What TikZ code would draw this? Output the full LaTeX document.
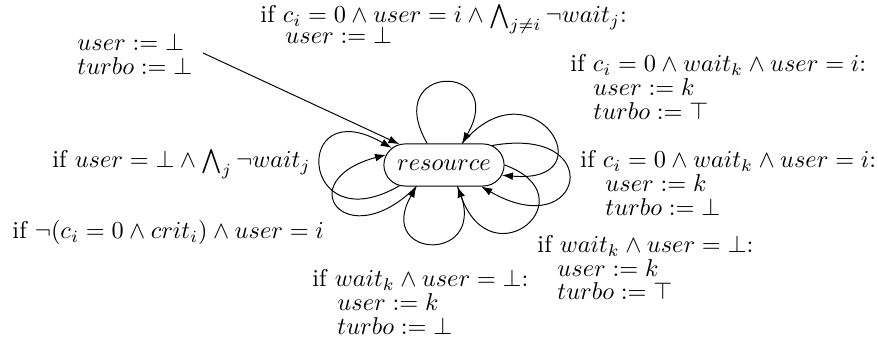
\documentclass[tikz,border=0pt]{standalone}
\usetikzlibrary{arrows.meta,shapes.misc}
\begin{document}
\begin{tikzpicture}[x=0.411pt,y=0.411pt,
  lbl/.style={anchor=base west,inner sep=0pt},
  loopedge/.style={-{Latex[length=4.5pt,width=3.2pt]}},
  statebox/.style={draw,rounded rectangle,minimum width=51.4pt,minimum height=17.3pt,inner sep=1pt}]
\useasboundingbox (0,0) rectangle (878,345);
\node[statebox] (r) at (444,180) {$resource$};
% self loops
\draw[loopedge] (r.128) .. controls +(120:94) and +(60:94) .. (r.50);
\draw[loopedge] (r.50) .. controls +(50:110) and +(-5:108) .. (r.-10);
\draw[loopedge] (r.22) .. controls +(10:118) and +(-30:118) .. (r.-30);
\draw[loopedge] (r.0) .. controls +(-20:92) and +(-70:102) .. (r.-58);
\draw[loopedge] (r.-58) .. controls +(-65:86) and +(-120:86) .. (r.218);
\draw[loopedge] (r.218) .. controls +(225:100) and +(195:100) .. (r.170);
\draw[loopedge] (r.205) .. controls +(210:116) and +(150:116) .. (r.162);
% initial
\coordinate (init) at (203,292);
\draw[loopedge] (init) -- (r.155);
% labels
\node[lbl] (t1) at (260,322) {if $c_i = 0 \land user = i \land \bigwedge_{j \neq i} \neg wait_j$:};
\node[lbl] (t2) at (285,301) {$user := \bot$};
\node[lbl] (i1) at (77,294) {$user := \bot$};
\node[lbl] (i2) at (77,270) {$turbo := \bot$};
\node[lbl] (a1) at (570,273) {if $c_i = 0 \land wait_k \land user = i$:};
\node[lbl] (a2) at (593,249) {$user := k$};
\node[lbl] (a3) at (593,225) {$turbo := \top$};
\node[lbl] (b1) at (580,177) {if $c_i = 0 \land wait_k \land user = i$:};
\node[lbl] (b2) at (605,153) {$user := k$};
\node[lbl] (b3) at (605,129) {$turbo := \bot$};
\node[lbl] (l1) at (52,177) {if $user = \bot \land \bigwedge_j \neg wait_j$};
\node[lbl] (l2) at (12,106) {if $\neg(c_i = 0 \land crit_i) \land user = i$};
\node[lbl] (c1) at (537,92) {if $wait_k \land user = \bot$:};
\node[lbl] (c2) at (557,68) {$user := k$};
\node[lbl] (c3) at (557,45) {$turbo := \top$};
\node[lbl] (d1) at (312,58) {if $wait_k \land user = \bot$:};
\node[lbl] (d2) at (337,34) {$user := k$};
\node[lbl] (d3) at (337,10) {$turbo := \bot$};
\end{tikzpicture}
\end{document}
